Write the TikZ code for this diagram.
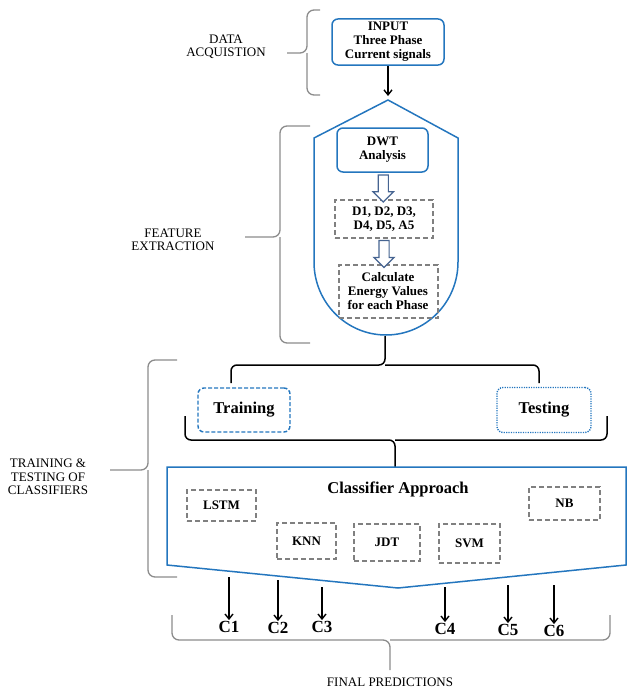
\documentclass[tikz,border=0pt]{standalone}
\usepackage{fontspec}
\setmainfont{Liberation Serif}
\usepackage{tikz}
\usetikzlibrary{arrows.meta, shapes.arrows, calc}

\definecolor{boxblue}{RGB}{36,118,190}
\definecolor{boxgray}{RGB}{128,128,128}
\definecolor{bracegray}{RGB}{140,140,140}
\definecolor{hollowblue}{RGB}{70,100,145}

\tikzset{
  bluebox/.style={draw=boxblue, line width=1.5pt, rounded corners=6pt, align=center,
    font=\fontsize{13}{14}\selectfont\bfseries},
  graybox/.style={draw=boxgray, line width=2pt, dash pattern=on 5pt off 3pt, align=center,
    font=\fontsize{13}{14}\selectfont\bfseries},
  lbl/.style={align=center, font=\fontsize{13}{13.5}\selectfont},
  cls/.style={font=\fontsize{17}{19}\selectfont\bfseries, inner sep=1pt},
  hollow/.style={single arrow, draw=hollowblue, fill=white, line width=1.2pt,
    shape border rotate=270, inner sep=4.5pt, minimum width=19pt,
    single arrow head extend=5pt, minimum height=27pt},
  grayb/.style={draw=bracegray, line width=1.3pt, rounded corners=7pt},
  blackb/.style={draw=black, line width=1.5pt, rounded corners=6pt},
  arr/.style={line width=1.4pt, -{Straight Barb[length=5pt, width=8pt]}}
}

\begin{document}
\begin{tikzpicture}[x=1pt, y=-1pt]
  \useasboundingbox (0,0) rectangle (628,688);

  % data acquisition
  \node[bluebox, minimum width=112pt, minimum height=45pt] (input) at (388,42)
    {INPUT\\Three Phase\\Current signals};
  \node[lbl] (acq) at (226,47) {DATA\\ACQUISTION};
  \draw[grayb] (320,10) -- (307,10) -- (307,53) -- (287,53);
  \draw[grayb] (320,95) -- (307,95) -- (307,53);

  % feature extraction
  \coordinate (apex) at (388,100);
  \draw[boxblue, line width=1.5pt] (apex) -- (458,138) -- (458,262)
    arc[start angle=0, end angle=-180, x radius=72, y radius=-73] -- (314,138) -- cycle;
  \draw[arr] (input.south) -- ($(apex)+(0,-4)$);

  \node[bluebox, minimum width=91pt, minimum height=44pt] (dwt) at (382.5,150) {DWT\\Analysis};
  \node[graybox, minimum width=98pt, minimum height=38pt] (dlev) at (384,219)
    {D1, D2, D3,\\D4, D5, A5};
  \node[graybox, minimum width=99pt, minimum height=53pt] (energy) at (388,291.5)
    {Calculate\\Energy Values\\for each Phase};
  \node[hollow] (h1) at ($(dwt.south)!.5!(dlev.north)$) {};
  \node[hollow] (h2) at ($(dlev.south)!.5!(energy.north)+(-2,0)$) {};

  \node[lbl] (feat) at (173,240) {FEATURE\\EXTRACTION};
  \draw[grayb] (310,126) -- (280,126) -- (280,237) -- (245,237);
  \draw[grayb] (310,343) -- (280,343) -- (280,237);

  % training and testing
  \node[bluebox, dash pattern=on 4pt off 2pt, line width=1.4pt, minimum width=92pt,
    minimum height=44pt, font=\fontsize{16.5}{18}\selectfont\bfseries] (train) at (244,410) {Training};
  \node[bluebox, dash pattern=on 1.2pt off 1.2pt, line width=1.4pt, minimum width=94pt,
    minimum height=45pt, font=\fontsize{16.5}{18}\selectfont\bfseries] (test) at (544,410) {Testing};
  \draw[blackb] (231,383) -- (231,365) -- (385,365) -- (385,336);
  \draw[blackb] (539,383) -- (539,365) -- (385,365);
  \draw[blackb] (185,416) -- (185,440) -- (395,440) -- (395,467);
  \draw[blackb] (607,416) -- (607,440) -- (395,440);

  % classifiers
  \draw[boxblue, line width=1.5pt] (167,467) -- (626,467) -- (626,565) -- (398,588)
    -- (167,565) -- cycle;
  \node[font=\fontsize{16.5}{18}\selectfont\bfseries] (appr) at (398,489) {Classifier Approach};
  \node[graybox, minimum width=69pt, minimum height=31pt] (lstm) at (221.5,505.5) {LSTM};
  \node[graybox, minimum width=71pt, minimum height=33pt] (nb) at (564.5,503.5) {NB};
  \node[graybox, minimum width=59pt, minimum height=36pt] (knn) at (306.5,541) {KNN};
  \node[graybox, minimum width=66pt, minimum height=37pt] (jdt) at (387,542.5) {JDT};
  \node[graybox, minimum width=61pt, minimum height=39pt] (svm) at (469.5,543.5) {SVM};

  \node[lbl] (train lbl) at (48,477) {TRAINING \&\\TESTING OF\\CLASSIFIERS};
  \draw[grayb] (177,360) -- (148,360) -- (148,470) -- (110,470);
  \draw[grayb] (177,577) -- (148,577) -- (148,470);

  % predictions
  \foreach \n/\x/\y/\s in {1/229/627/577, 2/278/628/580, 3/322/627/587,
                           4/445/629/587, 5/508/630/585, 6/554/631/585} {
    \node[cls] (c\n) at (\x,\y) {C\n};
    \coordinate (s\n) at (\x,\s);
    \draw[arr] (s\n) -- (c\n.north);
  }
  \draw[grayb] (172,615) -- (172,640) -- (390,640) -- (390,670);
  \draw[grayb] (610,615) -- (610,640) -- (390,640);
  \node[lbl] (final) at (390,682) {FINAL PREDICTIONS};
\end{tikzpicture}
\end{document}
